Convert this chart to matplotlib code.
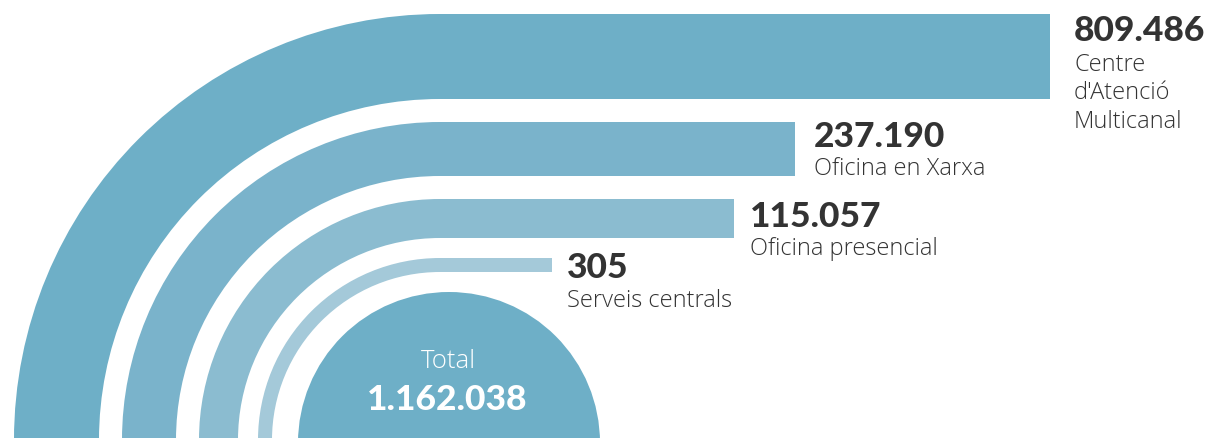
import matplotlib
matplotlib.use("Agg")
import matplotlib.pyplot as plt
from matplotlib.patches import Wedge, Circle

# ---- data ----
categories = ["Centre\nd'Atenció\nMulticanal", "Oficina en Xarxa", "Oficina presencial", "Serveis centrals"]
values = [809486, 237190, 115057, 305]
value_labels = ["809.486", "237.190", "115.057", "305"]
total_label = "1.162.038"

# ---- layout (pixel space) ----
W, H = 1213, 439
cx, cy = 440, 441
outer_r = [426, 318, 241, 182]
inner_r = [341, 264, 202, 168]
bar_end = [1050, 795, 734, 552]
colors = ["#6eafc7", "#7ab3cb", "#8bbcd0", "#a4c9d9"]
total_color = "#6eafc7"
text_color = "#333333"

fig = plt.figure(figsize=(W / 100, H / 100), dpi=100)
ax = fig.add_axes([0, 0, 1, 1])
ax.set_xlim(0, W)
ax.set_ylim(H, 0)
ax.set_aspect("equal")
ax.axis("off")

for ro, ri, end, c in zip(outer_r, inner_r, bar_end, colors):
    ax.add_patch(Wedge((cx, cy), ro, 180, 270, width=ro - ri, facecolor=c, edgecolor="none"))
    ax.barh(cy - (ro + ri) / 2, end - cx, left=cx, height=ro - ri, color=c, edgecolor="none")

ax.add_patch(Circle((449, 444), 151, facecolor=total_color, edgecolor="none"))

num_font = dict(family="Lato", fontweight="black", fontsize=25.5, color=text_color)
lab_font = dict(family="Open Sans", fontweight="light", fontsize=17, color=text_color)

num_pos = [(1074, 41), (814, 147), (750, 227), (567, 278)]
lab_pos = [(1074, 71), (814, 175), (750, 255), (567, 307)]
for (nx, ny), (lx, ly), vl, cat in zip(num_pos, lab_pos, value_labels, categories):
    ax.text(nx, ny, vl, ha="left", va="baseline", **num_font)
    for k, ln in enumerate(cat.split("\n")):
        ax.text(lx, ly + 28.5 * k, ln, ha="left", va="baseline", **lab_font)

ax.text(448, 368, "Total", ha="center", va="baseline", family="Open Sans", fontweight="light",
        fontsize=18.5, color="white")
ax.text(447, 410, total_label, ha="center", va="baseline", family="Lato", fontweight="black",
        fontsize=25.5, color="white")

fig.savefig("out.png", dpi=100)
